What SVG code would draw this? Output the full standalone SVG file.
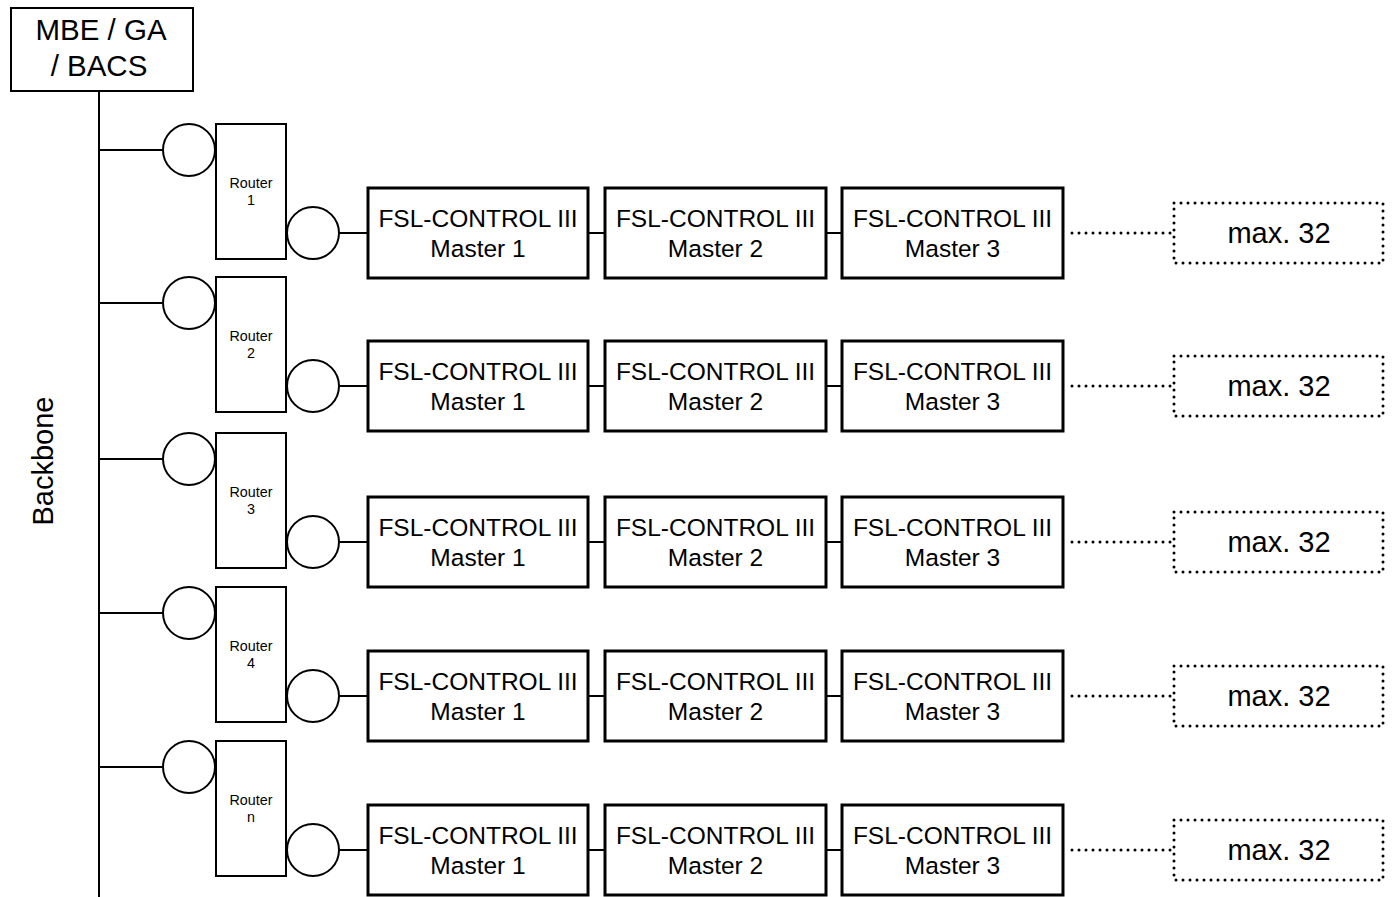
<svg xmlns="http://www.w3.org/2000/svg" width="1395" height="897" viewBox="0 0 1395 897">
<style>
text{font-family:"Liberation Sans",Arial,sans-serif;fill:#000;text-anchor:middle}
.thin{fill:#fff;stroke:#000;stroke-width:2}
.box{fill:#fff;stroke:#000;stroke-width:3}
.dot{fill:none;stroke:#000;stroke-width:3;stroke-dasharray:0 7;stroke-linecap:round}
.ln{stroke:#000;stroke-width:2;fill:none}
.rt{font-size:14.3px}
.fsl{font-size:24.5px}
.mx{font-size:29px}
</style>
<defs>
<g id="row">
<circle class="thin" cx="189" cy="0" r="26"/>
<rect class="thin" x="216" y="-26" width="70" height="135"/>
<circle class="thin" cx="313" cy="83" r="26"/>
<rect class="box" x="368" y="38" width="220" height="90"/>
<rect class="box" x="605" y="38" width="221" height="90"/>
<rect class="box" x="842" y="38" width="221" height="90"/>
<rect class="dot" x="1174" y="53" width="209" height="60"/>
<text class="fsl" x="478" y="76.5">FSL-CONTROL III</text>
<text class="fsl" x="478" y="106.5">Master 1</text>
<text class="fsl" x="715.5" y="76.5">FSL-CONTROL III</text>
<text class="fsl" x="715.5" y="106.5">Master 2</text>
<text class="fsl" x="952.5" y="76.5">FSL-CONTROL III</text>
<text class="fsl" x="952.5" y="106.5">Master 3</text>
<text class="mx" x="1279" y="92.5">max. 32</text>
</g>
<g id="conn">
<line class="ln" x1="99" y1="0" x2="163" y2="0"/>
<line class="ln" x1="339" y1="83" x2="368" y2="83"/>
<line class="ln" x1="588" y1="83" x2="605" y2="83"/>
<line class="ln" x1="826" y1="83" x2="842" y2="83"/>
<line class="dot" x1="1072" y1="83" x2="1177" y2="83"/>
</g>
</defs>
<rect width="1395" height="897" fill="#fff"/>
<g id="connectors">
<line class="ln" x1="99" y1="91" x2="99" y2="897"/>
<use href="#conn" y="150"/>
<use href="#conn" y="303"/>
<use href="#conn" y="459"/>
<use href="#conn" y="613"/>
<use href="#conn" y="767"/>
</g>
<g id="mbe">
<rect class="thin" x="11" y="8" width="182" height="83"/>
<text x="101" y="40" font-size="29.5">MBE / GA</text>
<text x="99" y="76" font-size="29.5">/ BACS</text>
</g>
<text x="43" y="461" font-size="29" transform="rotate(-90 43 461)" dy="10">Backbone</text>
<g id="row1"><use href="#row" y="150"/><text class="rt" x="251" y="188">Router</text><text class="rt" x="251" y="205">1</text></g>
<g id="row2"><use href="#row" y="303"/><text class="rt" x="251" y="341">Router</text><text class="rt" x="251" y="358">2</text></g>
<g id="row3"><use href="#row" y="459"/><text class="rt" x="251" y="497">Router</text><text class="rt" x="251" y="514">3</text></g>
<g id="row4"><use href="#row" y="613"/><text class="rt" x="251" y="651">Router</text><text class="rt" x="251" y="668">4</text></g>
<g id="row5"><use href="#row" y="767"/><text class="rt" x="251" y="805">Router</text><text class="rt" x="251" y="822">n</text></g>
</svg>
